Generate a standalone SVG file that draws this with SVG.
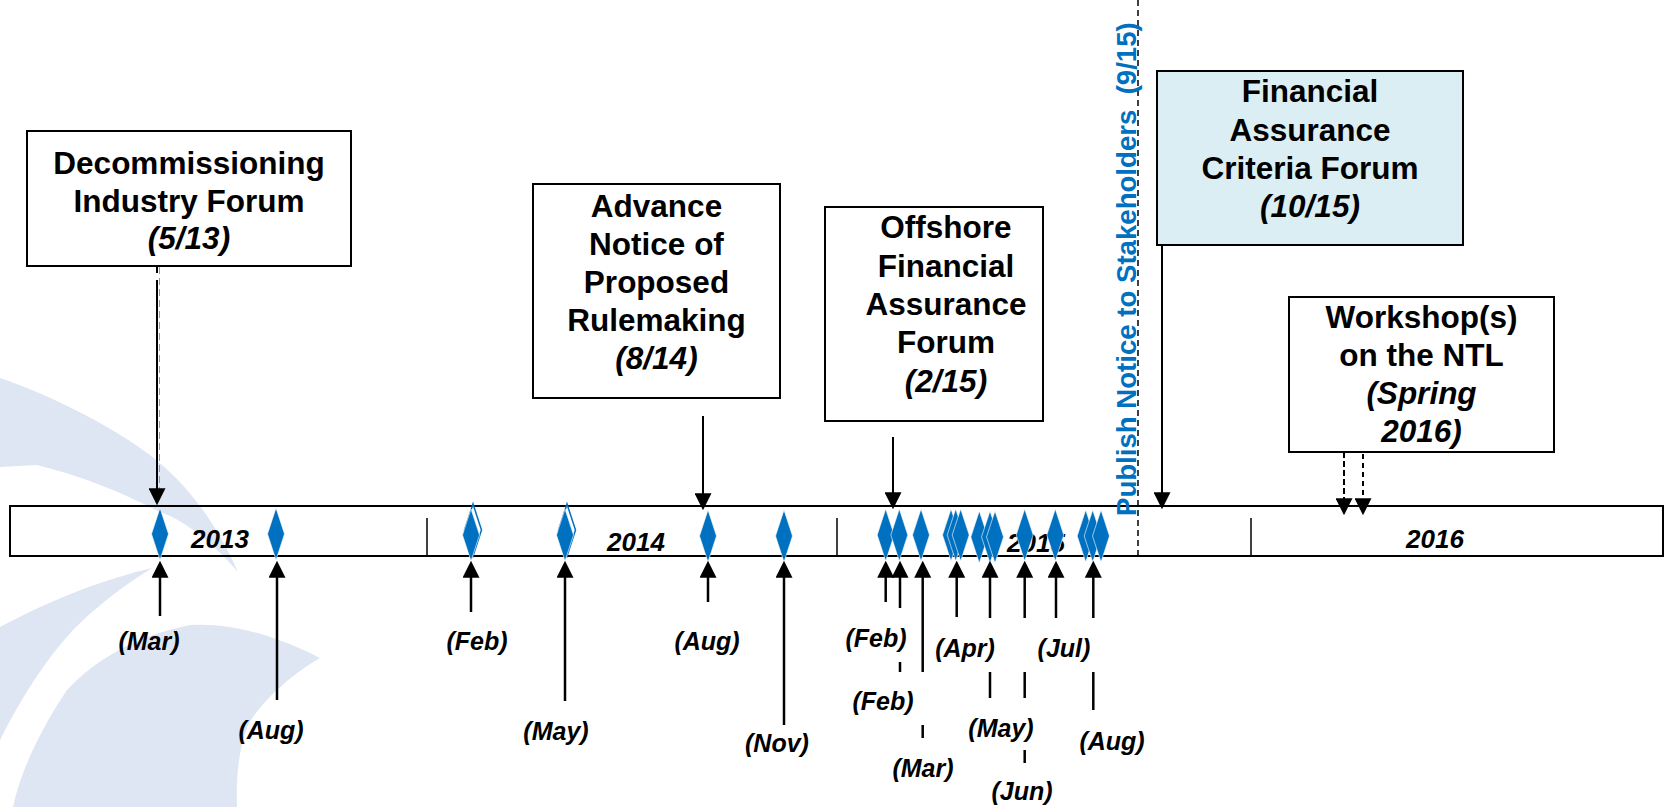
<svg xmlns="http://www.w3.org/2000/svg" width="1665" height="807" viewBox="0 0 1665 807">
<defs>
<style>
.box{fill:#ffffff;stroke:#000;stroke-width:2}
.bt{font-family:'Liberation Sans',Arial,sans-serif;font-weight:bold;font-size:31.5px;fill:#000;text-anchor:middle}
.it{font-style:italic}
.ml{font-family:'Liberation Sans',Arial,sans-serif;font-weight:bold;font-style:italic;font-size:25px;fill:#000;text-anchor:middle}
.yr{font-family:'Liberation Sans',Arial,sans-serif;font-weight:bold;font-style:italic;font-size:26px;fill:#000;text-anchor:middle}
.up{stroke:#000;stroke-width:2.5;fill:none;marker-end:url(#ah)}
.dn{stroke:#000;stroke-width:2;fill:none;marker-end:url(#ah)}
.seg{stroke:#000;stroke-width:2.5;fill:none}
.dia{fill:#0070C0;stroke:#fff;stroke-width:0.6}
.sw{fill:#DEE6F3}
</style>
<marker id="ah" viewBox="0 0 10 10" refX="1" refY="5" markerUnits="userSpaceOnUse" markerWidth="17" markerHeight="17" orient="auto">
<path d="M0,0 L10,5 L0,10 z" fill="#000"/>
</marker>
<path id="dm" d="M0,-26 L8.5,0 L0,26 L-8.5,0 z"/>
</defs>
<rect width="1665" height="807" fill="#fff"/>
<g id="background">
<path class="sw" d="M0,378 C50,395 110,425 150,455 C185,482 215,520 238,572 C215,545 185,520 160,512 C130,497 90,478 37,465 L0,467 z"/>
<path class="sw" d="M152,568 C110,578 60,595 0,627 L0,740 C20,700 45,660 73,630 C95,608 120,588 152,568 z"/>
<path class="sw" d="M13,807 C20,773 40,730 67,690 C95,660 135,636 190,625 C235,622 280,638 320,658 C295,672 262,700 248,725 C238,750 236,780 237,807 z"/>
</g>
<g id="timeline">
<rect x="10" y="506" width="1653" height="50" fill="none" stroke="#000" stroke-width="2"/>
<line x1="427" y1="518" x2="427" y2="556" stroke="#000" stroke-width="1.5"/>
<line x1="837" y1="518" x2="837" y2="556" stroke="#000" stroke-width="1.5"/>
<line x1="1251" y1="518" x2="1251" y2="556" stroke="#000" stroke-width="1.5"/>
<text class="yr" x="220" y="548">2013</text>
<text class="yr" x="636" y="551">2014</text>
<text class="yr" x="1036" y="552">2015</text>
<text class="yr" x="1435" y="548">2016</text>
</g>
<g id="diamonds">
<use href="#dm" class="dia" x="160" y="534"/>
<use href="#dm" class="dia" x="276" y="534"/>
<use href="#dm" x="473" y="530" fill="#fff" stroke="#0070C0" stroke-width="1.5"/>
<use href="#dm" class="dia" x="471" y="535"/>
<use href="#dm" x="567" y="530" fill="#fff" stroke="#0070C0" stroke-width="1.5"/>
<use href="#dm" class="dia" x="565" y="535"/>
<use href="#dm" class="dia" x="708" y="536"/>
<use href="#dm" class="dia" x="784" y="536"/>
<use href="#dm" class="dia" x="885.7" y="535"/>
<use href="#dm" class="dia" x="899.3" y="535"/>
<use href="#dm" class="dia" x="921" y="535"/>
<use href="#dm" class="dia" x="951" y="535"/>
<use href="#dm" class="dia" x="955.7" y="535"/>
<use href="#dm" class="dia" x="960.7" y="535"/>
<use href="#dm" class="dia" x="979.3" y="537"/>
<use href="#dm" class="dia" x="990" y="537"/>
<use href="#dm" class="dia" x="995" y="537"/>
<use href="#dm" class="dia" x="1024.7" y="535"/>
<use href="#dm" class="dia" x="1055.3" y="535"/>
<use href="#dm" class="dia" x="1085.7" y="536"/>
<use href="#dm" class="dia" x="1092.7" y="536"/>
<use href="#dm" class="dia" x="1101" y="536"/>
</g>
<g id="connectors">
<line x1="159.5" y1="267" x2="159.5" y2="490" stroke="#999" stroke-width="1" stroke-dasharray="7,4"/>
<line x1="157" y1="267" x2="157" y2="273" stroke="#000" stroke-width="2"/>
<line class="dn" x1="157" y1="280" x2="157" y2="490"/>
<line class="dn" x1="703" y1="416" x2="703" y2="495"/>
<line class="dn" x1="893" y1="437" x2="893" y2="494"/>
<line class="dn" x1="1162" y1="245" x2="1162" y2="494"/>
<line class="dn" x1="1344" y1="443" x2="1344" y2="500" stroke-dasharray="6,3" stroke-width="2.5"/>
<line class="dn" x1="1363" y1="445" x2="1363" y2="500" stroke-dasharray="5,4" stroke-width="1.5"/>
<line x1="1138" y1="0" x2="1138" y2="556" stroke="#000" stroke-width="1.5" stroke-dasharray="6,4"/>
<line class="up" x1="160" y1="616" x2="160" y2="576"/>
<line class="up" x1="277" y1="700" x2="277" y2="576"/>
<line class="up" x1="471" y1="612" x2="471" y2="576"/>
<line class="up" x1="565" y1="701" x2="565" y2="576"/>
<line class="up" x1="708" y1="602" x2="708" y2="576"/>
<line class="up" x1="784" y1="725" x2="784" y2="576"/>
<line class="up" x1="885.7" y1="602" x2="885.7" y2="576" stroke-width="2"/>
<line class="up" x1="900" y1="608" x2="900" y2="576" stroke-width="3"/>
<line class="up" x1="922.7" y1="672" x2="922.7" y2="576" stroke-width="2"/>
<line class="up" x1="956.7" y1="617" x2="956.7" y2="576" stroke-width="3"/>
<line class="up" x1="990" y1="618" x2="990" y2="576" stroke-width="2"/>
<line class="up" x1="1024.7" y1="618" x2="1024.7" y2="576" stroke-width="2"/>
<line class="up" x1="1056" y1="618" x2="1056" y2="576" stroke-width="2"/>
<line class="up" x1="1093.3" y1="618" x2="1093.3" y2="576" stroke-width="2"/>
<line class="seg" x1="900" y1="662" x2="900" y2="672"/>
<line class="seg" x1="922.7" y1="725" x2="922.7" y2="738" stroke-width="2"/>
<line class="seg" x1="990" y1="672" x2="990" y2="698" stroke-width="2"/>
<line class="seg" x1="1024.7" y1="672" x2="1024.7" y2="698" stroke-width="2"/>
<line class="seg" x1="1024.7" y1="750" x2="1024.7" y2="763" stroke-width="2"/>
<line class="seg" x1="1093.3" y1="672" x2="1093.3" y2="710" stroke-width="2"/>
</g>
<g id="publish-notice">
<text transform="translate(1136,516) rotate(-90)" font-family="'Liberation Sans',Arial,sans-serif" font-weight="bold" font-size="27.6" fill="#0070C0" xml:space="preserve">Publish Notice to Stakeholders  (9/15)</text>
</g>
<g id="box-decommissioning">
<rect class="box" x="27" y="131" width="324" height="135"/>
<text class="bt" x="189" y="174">Decommissioning</text>
<text class="bt" x="189" y="212">Industry Forum</text>
<text class="bt it" x="189" y="249">(5/13)</text>
</g>
<g id="box-anpr">
<rect class="box" x="533" y="184" width="247" height="214"/>
<text class="bt" x="656.5" y="217">Advance</text>
<text class="bt" x="656.5" y="255">Notice of</text>
<text class="bt" x="656.5" y="293">Proposed</text>
<text class="bt" x="656.5" y="331">Rulemaking</text>
<text class="bt it" x="656.5" y="369">(8/14)</text>
</g>
<g id="box-offshore">
<rect class="box" x="825" y="207" width="218" height="214"/>
<text class="bt" x="946" y="238">Offshore</text>
<text class="bt" x="946" y="277">Financial</text>
<text class="bt" x="946" y="315">Assurance</text>
<text class="bt" x="946" y="353">Forum</text>
<text class="bt it" x="946" y="392">(2/15)</text>
</g>
<g id="box-criteria">
<rect class="box" x="1157" y="71" width="306" height="174" style="fill:#DBEEF4"/>
<text class="bt" x="1310" y="102">Financial</text>
<text class="bt" x="1310" y="141">Assurance</text>
<text class="bt" x="1310" y="179">Criteria Forum</text>
<text class="bt it" x="1310" y="217">(10/15)</text>
</g>
<g id="box-workshop">
<rect class="box" x="1289" y="297" width="265" height="155"/>
<text class="bt" x="1421.5" y="328">Workshop(s)</text>
<text class="bt" x="1421.5" y="366">on the NTL</text>
<text class="bt it" x="1421.5" y="404">(Spring</text>
<text class="bt it" x="1421.5" y="442">2016)</text>
</g>
<g id="month-labels">
<text class="ml" x="149" y="650">(Mar)</text>
<text class="ml" x="271" y="739">(Aug)</text>
<text class="ml" x="477" y="650">(Feb)</text>
<text class="ml" x="556" y="740">(May)</text>
<text class="ml" x="707" y="650">(Aug)</text>
<text class="ml" x="777" y="752">(Nov)</text>
<text class="ml" x="876" y="647">(Feb)</text>
<text class="ml" x="883" y="710">(Feb)</text>
<text class="ml" x="923" y="777">(Mar)</text>
<text class="ml" x="965" y="657">(Apr)</text>
<text class="ml" x="1001" y="737">(May)</text>
<text class="ml" x="1022" y="800">(Jun)</text>
<text class="ml" x="1064" y="657">(Jul)</text>
<text class="ml" x="1112" y="750">(Aug)</text>
</g>
</svg>
